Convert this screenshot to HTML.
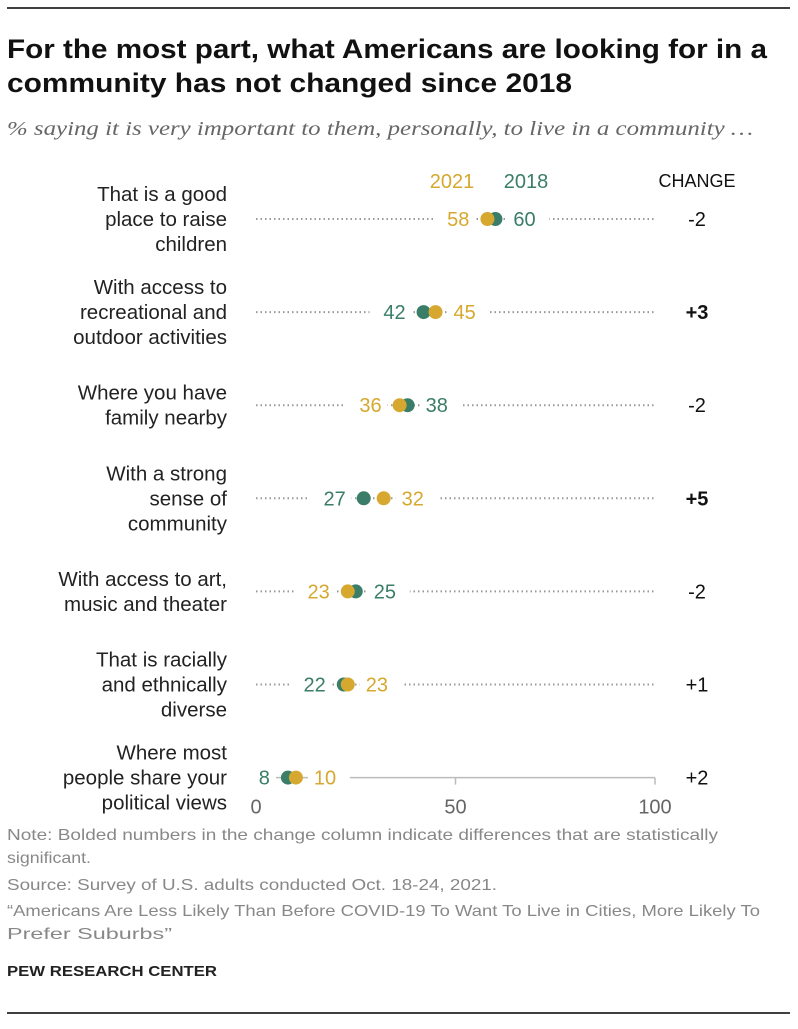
<!DOCTYPE html>
<html><head><meta charset="utf-8"><style>
body{margin:0;background:#fff;width:798px;height:1024px;overflow:hidden;font-family:"Liberation Sans",sans-serif}
</style></head><body>
<svg width="798" height="1024" xmlns="http://www.w3.org/2000/svg" font-family="Liberation Sans, sans-serif">
<line x1="7" y1="8" x2="790" y2="8" stroke="#000" stroke-width="1.5"/>
<text x="7" y="58" font-size="27" font-weight="bold" fill="#111" textLength="760" lengthAdjust="spacingAndGlyphs">For the most part, what Americans are looking for in a</text>
<text x="7" y="92" font-size="27" font-weight="bold" fill="#111" textLength="565" lengthAdjust="spacingAndGlyphs">community has not changed since 2018</text>
<text x="7" y="135" font-size="20" font-style="italic" fill="#666" font-family="Liberation Serif, serif" textLength="746" lengthAdjust="spacingAndGlyphs">% saying it is very important to them, personally, to live in a community …</text>
<text x="452" y="188" font-size="20" fill="#d6a82f" text-anchor="middle">2021</text>
<text x="526" y="188" font-size="20" fill="#3a7d68" text-anchor="middle">2018</text>
<text x="697" y="187" font-size="18" fill="#111" text-anchor="middle">CHANGE</text>
<g id="plot"></g>
<text x="7" y="840" font-size="16" fill="#888" textLength="711" lengthAdjust="spacingAndGlyphs">Note: Bolded numbers in the change column indicate differences that are statistically</text>
<text x="7" y="863" font-size="16" fill="#888" textLength="84" lengthAdjust="spacingAndGlyphs">significant.</text>
<text x="7" y="890" font-size="16" fill="#888" textLength="490" lengthAdjust="spacingAndGlyphs">Source: Survey of U.S. adults conducted Oct. 18-24, 2021.</text>
<text x="7" y="916" font-size="16" fill="#888" textLength="753" lengthAdjust="spacingAndGlyphs">“Americans Are Less Likely Than Before COVID-19 To Want To Live in Cities, More Likely To</text>
<text x="7" y="939" font-size="16" fill="#888" textLength="165" lengthAdjust="spacingAndGlyphs">Prefer Suburbs”</text>
<text x="7" y="976" font-size="15" font-weight="bold" fill="#222" textLength="210" lengthAdjust="spacingAndGlyphs">PEW RESEARCH CENTER</text>
<line x1="7" y1="1013" x2="790" y2="1013" stroke="#000" stroke-width="1.5"/>
</svg>
<script>
const categories=[["That is a good","place to raise","children"],["With access to","recreational and","outdoor activities"],["Where you have","family nearby"],["With a strong","sense of","community"],["With access to art,","music and theater"],["That is racially","and ethnically","diverse"],["Where most","people share your","political views"]];
const v2018=[60,42,38,27,25,22,8];
const v2021=[58,45,36,32,23,23,10];
const changes=["-2","+3","-2","+5","-2","+1","+2"];
const significant=[false,true,false,true,false,false,false];
const ticks=[0,50,100];
const NS="http://www.w3.org/2000/svg";
const g=document.getElementById('plot');
const x=v=>256+v*3.99;
const rowY=i=>219+i*93.1;
const G="#3a7d68",Y="#d6a82f";
function mk(t,a,txt){const e=document.createElementNS(NS,t);for(const k in a)e.setAttribute(k,a[k]);if(txt!=null)e.textContent=txt;g.appendChild(e);return e;}
ticks.forEach(t=>{const y=rowY(6);
  const tk=mk('line',{x1:x(t),x2:x(t),y1:y,y2:y+7,stroke:"#bbb","stroke-width":1.5});
  
  
  const tl=mk('text',{x:x(t),y:y+36,"font-size":20,fill:"#666","text-anchor":"middle"},t);
  
  });
categories.forEach((c,i)=>{
  const y=rowY(i);const last=i===categories.length-1;
  const ln=mk('line',last?{x1:x(0),x2:x(100),y1:y,y2:y,stroke:"#bbb","stroke-width":1.5}:{x1:x(0),x2:x(100),y1:y,y2:y,stroke:"#999","stroke-width":2,"stroke-dasharray":"1.5 3"});
  
  
  const lh=25,start=y-(c.length-1)*lh/2+7;
  c.forEach((s,k)=>{const t=mk('text',{x:227,y:start+k*lh,"font-size":20.5,fill:"#222","text-anchor":"end"},s);
    
    });
  const a=v2018[i],b=v2021[i];
  const lo=Math.min(a,b),hi=Math.max(a,b);
  const loCol=a<=b?G:Y,hiCol=a<=b?Y:G;
  const loV=a<=b?a:b,hiV=a<=b?b:a;
  const rl=mk('rect',{x:x(lo)-54,y:y-12,width:42,height:24,fill:"#fff"});
  
  
  const rr=mk('rect',{x:x(hi)+12,y:y-12,width:42,height:24,fill:"#fff"});
  
  
  const tl=mk('text',{x:x(lo)-18,y:y+7,"font-size":20,fill:loCol,"text-anchor":"end"},loV);
  
  
  const tr=mk('text',{x:x(hi)+18,y:y+7,"font-size":20,fill:hiCol},hiV);
  
  
  const d1=mk('circle',{cx:x(a),cy:y,r:7,fill:G});
  
  
  const d2=mk('circle',{cx:x(b),cy:y,r:7,fill:Y});
  
  
  const ch=mk('text',{x:697,y:y+7,"font-size":20,fill:"#111","text-anchor":"middle","font-weight":significant[i]?"bold":"normal"},changes[i]);
  
  
});
</script>
</body></html>
